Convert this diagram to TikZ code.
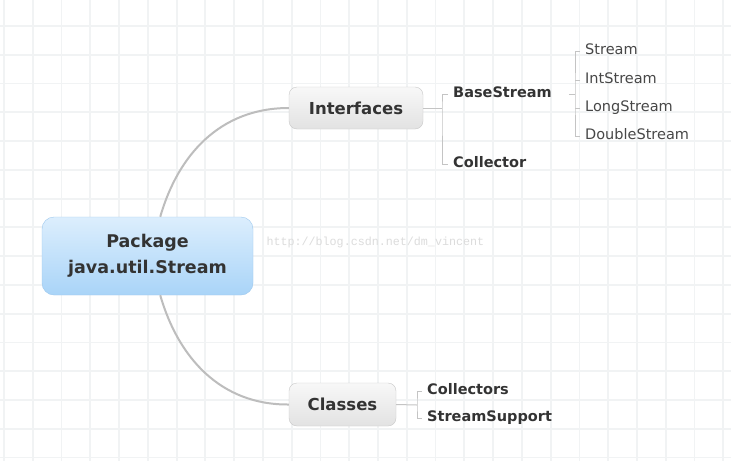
\documentclass[tikz,border=0pt]{standalone}
\usepackage{fontspec}
\setmainfont{DejaVu Sans}
\newfontfamily\wmfont{Liberation Mono}
\usepackage{xcolor}
\usepackage{tikz}
\usetikzlibrary{positioning}
\definecolor{gridgray}{HTML}{F1F3F4}
\definecolor{linegray}{HTML}{C4C4C4}
\definecolor{curvegray}{HTML}{BDBDBD}
\definecolor{textgray}{HTML}{333333}
\definecolor{rootTop}{HTML}{DCEEFD}
\definecolor{rootBot}{HTML}{A9D4F8}
\definecolor{rootEdge}{HTML}{9DC8EE}
\definecolor{topicTop}{HTML}{F8F8F8}
\definecolor{topicBot}{HTML}{E2E2E2}
\definecolor{topicEdge}{HTML}{C9C9C9}
\definecolor{wmgray}{HTML}{DCDCDC}
\tikzset{
	gridline/.style={
		draw=gridgray, line width=1.8pt
	},
	root/.style={
		draw=rootEdge, top color=rootTop, bottom color=rootBot, rounded corners=12pt,
		minimum width=211pt, minimum height=78pt, align=center,
		font=\bfseries\fontsize{17.5}{26}\selectfont, text=textgray
	},
	topic/.style={
		draw=topicEdge, top color=topicTop, bottom color=topicBot, rounded corners=8pt,
		minimum height=42pt, font=\bfseries\fontsize{16.5}{19}\selectfont, text=textgray
	},
	subtopic/.style={
		anchor=west, inner xsep=5pt, inner ysep=0pt, text height=1.5ex, text depth=.25ex,
		font=\bfseries\fontsize{14.5}{17}\selectfont, text=textgray
	},
	leaf/.style={
		subtopic, font=\fontsize{14.5}{17}\selectfont, text=textgray!90
	},
	branch/.style={
		draw=linegray, line width=1pt
	},
	curve/.style={
		draw=curvegray, line width=2pt
	}
}

\begin{document}
\begin{tikzpicture}[x=1pt, y=-1pt]
\useasboundingbox (0,0) rectangle (731,461);
\fill[white] (0,0) rectangle (731,461);
% background grid
\foreach \gx in {0,...,25}
	\draw[gridline] ({4+\gx*28.77},0) -- ({4+\gx*28.77},461);
\foreach \gy in {0,...,16}
	\draw[gridline] (0,{-2.77+\gy*28.77}) -- (731,{-2.77+\gy*28.77});

\node[font=\wmfont\fontsize{11.7}{14}\selectfont, text=wmgray, anchor=west] (wm) at (263,242) {http://blog.csdn.net/dm\_vincent};

\node[root] (root) at (147.5,256) {Package\\java.util.Stream};
\node[topic, minimum width=134pt] (Interfaces) at (356,108) {Interfaces};
\node[topic, minimum width=107pt, minimum height=43pt] (Classes) at (342.5,404.5) {Classes};

\node[subtopic] (BaseStream) at (448,94) {BaseStream};
\node[subtopic] (Collector) at (448,164) {Collector};
\foreach \name/\y in {Stream/51, IntStream/80, LongStream/108, DoubleStream/136.5}
	\node[leaf] (\name) at (580,\y) {\name};

\node[subtopic] (Collectors) at (422,391) {Collectors};
\node[subtopic] (StreamSupport) at (422,418) {StreamSupport};

\coordinate (ifork) at (442,108);
\coordinate (bfork) at (575,94);
\coordinate (cfork) at (417,405);

\draw[curve] (root.72) .. controls (178,155) and (220,108) .. (Interfaces.west);
\draw[curve] (root.-72) .. controls (178,357) and (220,405) .. (Classes.west);

\draw[branch] (Interfaces.east) -- (ifork);
\draw[branch] (BaseStream.west) -| (ifork) |- (Collector.west);
\draw[branch] ([xshift=12pt]BaseStream.east) -- (bfork);
\draw[branch] (Stream.west) -| (bfork) |- (DoubleStream.west);
\draw[branch] (IntStream.west) -- (bfork |- IntStream.west);
\draw[branch] (LongStream.west) -- (bfork |- LongStream.west);
\draw[branch] (Classes.east) -- (cfork);
\draw[branch] (Collectors.west) -| (cfork) |- (StreamSupport.west);
\end{tikzpicture}
\end{document}
